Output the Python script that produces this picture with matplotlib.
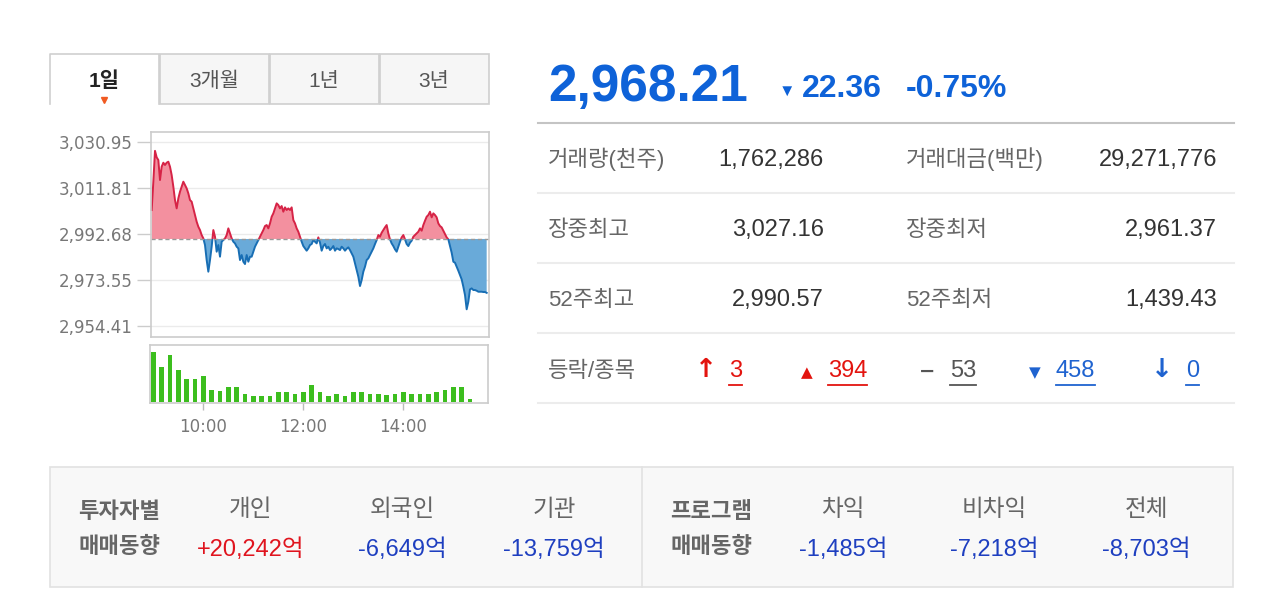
import numpy as np
import matplotlib
matplotlib.use('Agg')
import matplotlib.pyplot as plt
from matplotlib.patches import Rectangle

plt.rcParams['font.family'] = ['Liberation Sans', 'Noto Sans CJK KR', 'DejaVu Sans']

# ---- 데이터 ----
prev_close = 2990.57
y_ticks = [2954.41, 2973.55, 2992.68, 3011.81, 3030.95]

# 지수 (09:00 기준 경과 분, 2분 간격)
minutes = np.arange(-2, 401, 2)
prices = [
    3002.58, 3014.35, 3027.16, 3024.45, 3023.34, 3015.04, 3020.57, 3022.23, 3021.27, 3022.23,
    3022.65, 3020.57, 3017.11, 3012.27, 3006.73, 3003.27, 3007.43, 3010.19, 3012.27, 3014.35,
    3012.96, 3011.58, 3009.50, 3006.73, 3006.04, 3003.27, 3000.51, 2997.74, 2995.66, 2994.28,
    2992.20, 2990.82, 2988.05, 2981.82, 2976.98, 2981.82, 2987.36, 2994.28, 2991.51, 2985.28,
    2988.05, 2983.21, 2989.43, 2990.13, 2990.82, 2992.20, 2994.97, 2992.89, 2990.82, 2989.43,
    2988.74, 2987.36, 2986.67, 2981.82, 2983.90, 2981.13, 2980.16, 2983.90, 2981.13, 2983.21,
    2983.21, 2985.28, 2987.36, 2988.74, 2990.13, 2991.51, 2992.89, 2994.28, 2995.94, 2996.35,
    2994.97, 2997.05, 2999.81, 3001.20, 3003.27, 3005.35, 3004.66, 3003.27, 3004.24, 3001.89,
    3003.69, 3002.58, 3003.27, 3002.58, 3003.69, 2998.43, 2997.05, 2994.97, 2993.59, 2991.51,
    2989.43, 2987.63, 2986.67, 2985.70, 2986.67, 2988.05, 2988.47, 2990.13, 2989.43, 2988.74,
    2991.23, 2989.02, 2985.70, 2987.63, 2988.47, 2986.67, 2987.36, 2985.97, 2986.67, 2987.63,
    2985.70, 2986.67, 2986.39, 2985.97, 2987.36, 2986.67, 2985.70, 2986.53, 2987.08, 2985.97,
    2984.59, 2983.21, 2980.44, 2977.67, 2974.90, 2971.03, 2973.52, 2976.98, 2979.05, 2981.82,
    2982.51, 2983.90, 2985.28, 2986.67, 2988.47, 2990.13, 2992.20, 2991.51, 2993.17, 2994.28,
    2995.39, 2996.35, 2992.89, 2990.40, 2988.74, 2987.63, 2986.25, 2985.28, 2987.36, 2989.43,
    2991.23, 2992.20, 2990.40, 2988.47, 2987.63, 2989.02, 2989.85, 2991.51, 2992.20, 2992.89,
    2993.59, 2994.97, 2994.00, 2996.35, 2998.15, 2999.81, 3000.51, 3001.89, 2999.54, 3001.20,
    3000.51, 2999.54, 2997.05, 2995.94, 2995.39, 2994.00, 2992.62, 2991.23, 2990.40, 2987.63,
    2984.87, 2981.13, 2980.71, 2979.05, 2977.39, 2975.59, 2973.79, 2970.75, 2967.29, 2961.37,
    2964.52, 2969.64, 2970.06, 2969.37, 2969.37, 2969.09, 2968.67, 2968.67, 2968.67, 2968.54,
    2968.54, 2968.21,
]

# 거래량 (10분 단위, 상대값)
vol_minutes = np.arange(0, 381, 10)
volumes = [150, 105, 143, 97, 70, 70, 78, 37, 32, 45, 45, 25, 18, 18, 18, 30, 30, 25, 30, 52,
           30, 18, 25, 18, 30, 30, 25, 25, 20, 25, 30, 25, 25, 25, 30, 37, 45, 45, 10]
time_ticks = [60, 180, 300]
time_labels = ['10:00', '12:00', '14:00']

tabs = ['1일', '3개월', '1년', '3년']

current = '2,968.21'
change = '22.36'
change_pct = '-0.75%'

row_labels_1 = ['거래량(천주)', '장중최고', '52주최고']
row_values_1 = ['1,762,286', '3,027.16', '2,990.57']
row_labels_2 = ['거래대금(백만)', '장중최저', '52주최저']
row_values_2 = ['29,271,776', '2,961.37', '1,439.43']

updown_symbols = ['↑', '▲', '−', '▼', '↓']
updown_counts = ['3', '394', '53', '458', '0']
updown_colors = ['#e3140f', '#e3140f', '#555555', '#1f63d0', '#1f63d0']

investor_cols = ['개인', '외국인', '기관']
investor_vals = ['+20,242억', '-6,649억', '-13,759억']
investor_colors = ['#e0141e', '#1e3fc0', '#1e3fc0']
program_cols = ['차익', '비차익', '전체']
program_vals = ['-1,485억', '-7,218억', '-8,703억']

# ---- 그림 ----
W, H = 1280, 615
fig = plt.figure(figsize=(W / 100, H / 100), dpi=100)
fig.patch.set_facecolor('white')


def px_axes(left, top, width, height):
    return fig.add_axes([left / W, 1 - (top + height) / H, width / W, height / H])


bg = fig.add_axes([0, 0, 1, 1])
bg.set_xlim(0, W)
bg.set_ylim(H, 0)
bg.axis('off')

# 탭
tab_x = [50, 160, 270, 380]
for i, name in enumerate(tabs):
    x0 = tab_x[i]
    if i == 0:
        bg.plot([x0, x0, x0 + 109, x0 + 109], [104, 54, 54, 104], color='#cfcfcf', lw=1.2)
        bg.text(x0 + 54, 87, name, ha='center', va='baseline', fontsize=15,
                fontweight='bold', color='#222222')
        bg.plot([x0 + 54], [100], marker='v', color='#f05a22', markersize=5)
    else:
        bg.add_patch(Rectangle((x0, 54), 109, 50, facecolor='#f6f6f6',
                               edgecolor='#cfcfcf', lw=1.2))
        bg.text(x0 + 54, 87, name, ha='center', va='baseline', fontsize=15,
                color='#555555')

# 지수 차트
ax = px_axes(151, 131.7, 338, 205)
ax.set_xlim(-2.8, 402.8)
ax.set_ylim(2950.0, 3035.1)
p = np.array(prices)
ax.fill_between(minutes, p, prev_close, where=p >= prev_close, interpolate=True,
                color='#f3909f', lw=0)
ax.fill_between(minutes, p, prev_close, where=p <= prev_close, interpolate=True,
                color='#69aad9', lw=0)
up_line, = ax.plot(minutes, p, color='#d62346', lw=1.4)
dn_line, = ax.plot(minutes, p, color='#186eb4', lw=1.4)
up_line.set_clip_path(Rectangle((-10, prev_close), 420, 100, transform=ax.transData))
dn_line.set_clip_path(Rectangle((-10, prev_close - 100), 420, 100, transform=ax.transData))
ax.axhline(prev_close, color='#999999', lw=1, ls=(0, (3, 2)))
ax.set_yticks(y_ticks)
ax.set_yticklabels([f'{v:,.2f}' for v in y_ticks], family='DejaVu Sans',
                   fontsize=12, color='#777777')
ax.set_xticks([])
ax.grid(axis='y', color='#ebebeb', lw=1)
ax.set_axisbelow(True)
ax.tick_params(axis='y', length=10, width=1, color='#cccccc', pad=3)
for s in ax.spines.values():
    s.set_color('#cccccc')
    s.set_linewidth(1.2)

# 거래량 차트
axv = px_axes(150, 345, 338.3, 57.7)
axv.bar(vol_minutes, volumes, width=5.8, color='#3cbe1e')
axv.set_xlim(-4, 402)
axv.set_ylim(-2, 172)
axv.set_yticks([])
axv.set_xticks(time_ticks)
axv.set_xticklabels(time_labels, family='DejaVu Sans', fontsize=12, color='#777777')
axv.tick_params(axis='x', length=5, width=1, color='#bbbbbb', pad=6)
for s in axv.spines.values():
    s.set_color('#cccccc')
    s.set_linewidth(1.2)

# 현재가
bg.text(548, 101, current, fontsize=37, fontweight='bold', color='#0e62d8', va='baseline')
bg.text(787, 96, '▼', fontsize=12, color='#0e62d8', ha='center', va='baseline')
bg.text(802, 97, change, fontsize=23, fontweight='bold', color='#0e62d8', va='baseline')
bg.text(906, 97, change_pct, fontsize=23, fontweight='bold', color='#0e62d8', va='baseline')

bg.plot([538, 1234], [123, 123], color='#c4c4c4', lw=1.5)
for yl in [193, 263, 333, 403]:
    bg.plot([538, 1234], [yl, yl], color='#ececec', lw=1.5)

row_y = [158, 228, 298]
for i in range(3):
    yb = row_y[i] + 8
    bg.text(548, yb, row_labels_1[i], fontsize=16, color='#666666', va='baseline')
    bg.text(824, yb, row_values_1[i], fontsize=17, color='#333333', va='baseline', ha='right')
    bg.text(906, yb, row_labels_2[i], fontsize=16, color='#666666', va='baseline')
    bg.text(1217, yb, row_values_2[i], fontsize=17, color='#333333', va='baseline', ha='right')

# 등락 종목
yb = 377
bg.text(548, yb, '등락/종목', fontsize=16, color='#666666', va='baseline')
sym_x = [706, 807, 927, 1035, 1162]
num_x = [729, 828, 950, 1056, 1186]
sym_size = [19, 11, 14, 11, 19]
count_texts = []
for i in range(5):
    bg.text(sym_x[i], yb, updown_symbols[i], fontsize=sym_size[i], fontweight='bold',
            color=updown_colors[i], ha='center', va='baseline', family='DejaVu Sans')
    t = bg.text(num_x[i], yb, updown_counts[i], fontsize=17, color=updown_colors[i],
                va='baseline')
    count_texts.append(t)

# 투자자별 / 프로그램 매매동향
bg.add_patch(Rectangle((50, 467), 1183, 120, facecolor='#f8f8f8', edgecolor='#e2e2e2', lw=1.2))
bg.plot([642, 642], [467, 587], color='#e2e2e2', lw=1.2)

bg.text(78, 518, '투자자별', fontsize=16, fontweight='bold', color='#666666', va='baseline')
bg.text(78, 553, '매매동향', fontsize=16, fontweight='bold', color='#666666', va='baseline')
bg.text(670, 518, '프로그램', fontsize=16, fontweight='bold', color='#666666', va='baseline')
bg.text(670, 553, '매매동향', fontsize=16, fontweight='bold', color='#666666', va='baseline')

inv_x = [251, 402, 554]
for i in range(3):
    bg.text(inv_x[i], 516, investor_cols[i], fontsize=17, color='#666666', ha='center',
            va='baseline')
    bg.text(inv_x[i], 556, investor_vals[i], fontsize=17, color=investor_colors[i],
            ha='center', va='baseline')

prog_x = [843, 994, 1146]
for i in range(3):
    bg.text(prog_x[i], 516, program_cols[i], fontsize=17, color='#666666', ha='center',
            va='baseline')
    bg.text(prog_x[i], 556, program_vals[i], fontsize=17, color='#1e3fc0', ha='center',
            va='baseline')

# 밑줄
fig.canvas.draw()
renderer = fig.canvas.get_renderer()
inv = bg.transData.inverted()
for t in count_texts:
    bb = t.get_window_extent(renderer)
    x0, y0 = inv.transform((bb.x0, bb.y0))
    x1, _ = inv.transform((bb.x1, bb.y0))
    bg.plot([x0, x1], [y0 + 3, y0 + 3], color=t.get_color(), lw=1.3)

fig.savefig('out.png', dpi=100)
